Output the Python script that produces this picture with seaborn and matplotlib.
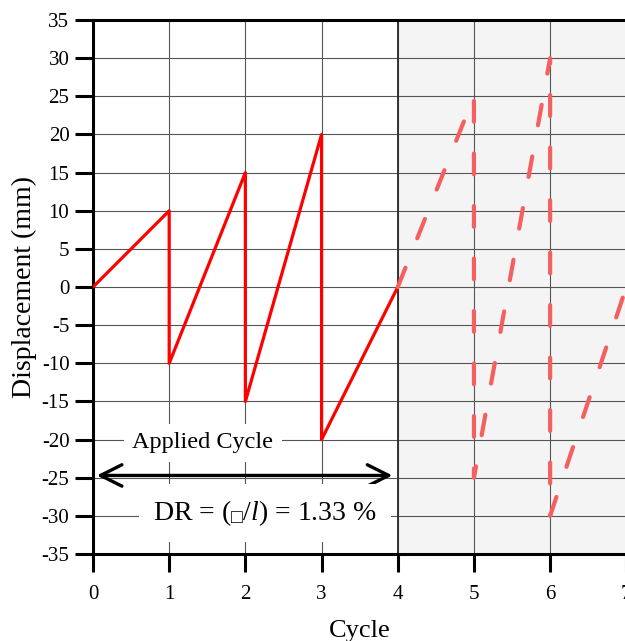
import matplotlib
matplotlib.use("Agg")
import matplotlib.pyplot as plt
import seaborn as sns

# loading protocol: applied part and the continued (dashed) part
applied_cycle = [0, 1, 1, 2, 2, 3, 3, 4]
applied_disp = [0, 10, -10, 15, -15, 20, -20, 0]
next_cycle = [4, 5, 5, 6, 6, 7]
next_disp = [0, 25, -25, 30, -30, 0]

x_ticks = [0, 1, 2, 3, 4, 5, 6, 7]
y_ticks = list(range(-35, 40, 5))

sns.set_style("ticks")
plt.rcParams["font.family"] = ["Liberation Serif", "DejaVu Sans"]
plt.rcParams["text.color"] = "black"
plt.rcParams["axes.labelcolor"] = "black"
plt.rcParams["axes.unicode_minus"] = False
plt.rcParams["mathtext.fontset"] = "custom"
plt.rcParams["mathtext.it"] = "Liberation Serif:italic"
plt.rcParams["mathtext.rm"] = "Liberation Serif"
plt.rcParams["mathtext.fallback"] = "stix"

fig = plt.figure(figsize=(6.25, 6.41), dpi=100)
ax = fig.add_axes([0.1488, 0.1357, 0.8533, 0.8330])

ax.axvspan(4, 7, color="#f4f4f4", zorder=0, lw=0)
ax.set_axisbelow(True)
ax.grid(True, color="#555555", lw=0.8)
ax.axvline(4, color="#333333", lw=1.4, zorder=1)

sns.lineplot(x=applied_cycle, y=applied_disp, sort=False, estimator=None,
             color="#ff0000", lw=2.3, ax=ax, zorder=3)
sns.lineplot(x=next_cycle, y=next_disp, sort=False, estimator=None,
             color="#f55f5f", lw=3.0, linestyle=(0, (5.0, 7.6)),
             dash_capstyle="round", ax=ax, zorder=3)

ax.set_xlim(0, 7)
ax.set_ylim(-35, 35)
ax.set_xticks(x_ticks)
ax.set_yticks(y_ticks)
ax.tick_params(axis="both", direction="out", width=2.2, labelsize=15,
               colors="black", labelcolor="black")
ax.tick_params(axis="x", length=13, pad=9)
ax.tick_params(axis="y", length=13, pad=4)
for s in ["left", "bottom", "top"]:
    ax.spines[s].set_linewidth(2.2)
    ax.spines[s].set_color("black")
ax.spines["right"].set_visible(False)

ax.set_xlabel("Cycle", fontsize=19, labelpad=12)
ax.set_ylabel("Displacement (mm)", fontsize=20, labelpad=3)

ax.text(1.44, -20.4, "Applied Cycle", fontsize=17.5, ha="center", va="center", zorder=4,
        bbox=dict(boxstyle="square,pad=0.35", fc="white", ec="none"))
ax.annotate("", xy=(0.05, -24.7), xytext=(3.93, -24.7), zorder=4,
            arrowprops=dict(arrowstyle="<->,head_length=0.7,head_width=0.35",
                            color="black", lw=2.4, mutation_scale=22,
                            shrinkA=0, shrinkB=0))
ax.text(2.26, -29.6, "DR = ($_{\u25a1}$/$l$) = 1.33 %", fontsize=20, ha="center",
        va="center", zorder=4,
        bbox=dict(boxstyle="square,pad=0.5", fc="white", ec="none"))

fig.savefig("out.png", dpi=100)
